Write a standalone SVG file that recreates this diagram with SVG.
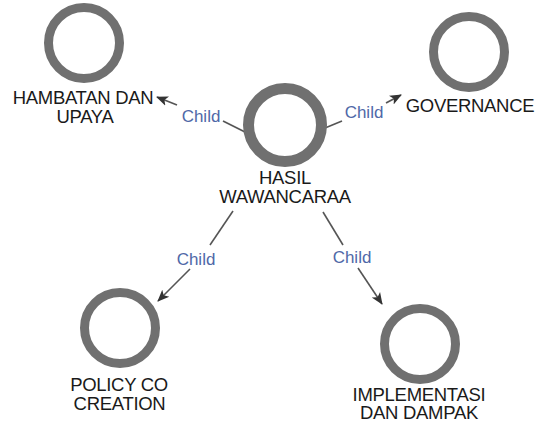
<svg xmlns="http://www.w3.org/2000/svg" width="537" height="423" viewBox="0 0 537 423">
  <style>
    .ring { fill: none; stroke: #707070; stroke-width: 9; }
    .ring-main { fill: none; stroke: #707070; stroke-width: 11; }
    .label { font-family: "Liberation Sans", Arial, sans-serif; font-size: 18.5px; fill: #1a1a1a; text-anchor: middle; letter-spacing: -0.3px; }
    .elabel { font-family: "Liberation Sans", Arial, sans-serif; font-size: 17px; fill: #4f68a8; text-anchor: middle; }
    .edge { fill: none; stroke: #555555; stroke-width: 1.6; }
  </style>
  <defs>
    <marker id="arrow" markerUnits="userSpaceOnUse" markerWidth="12" markerHeight="12" viewBox="0 0 12 12" refX="11" refY="6" orient="auto">
      <path d="M0,1 L12,6 L0,11 L3,6 Z" fill="#333333"/>
    </marker>
  </defs>
  <rect width="537" height="423" fill="#ffffff"/>

  <g id="connectors">
    <line class="edge" x1="247" y1="133" x2="223" y2="121"/>
    <line class="edge" x1="177" y1="105" x2="157" y2="97" marker-end="url(#arrow)"/>
    <text class="elabel" x="201" y="122">Child</text>

    <line class="edge" x1="325" y1="128" x2="342" y2="121"/>
    <line class="edge" x1="386" y1="103" x2="401" y2="95" marker-end="url(#arrow)"/>
    <text class="elabel" x="364" y="118">Child</text>

    <line class="edge" x1="233" y1="211" x2="210" y2="245"/>
    <line class="edge" x1="190" y1="269" x2="158" y2="301" marker-end="url(#arrow)"/>
    <text class="elabel" x="196" y="265">Child</text>

    <line class="edge" x1="323" y1="212" x2="343" y2="245"/>
    <line class="edge" x1="358" y1="268" x2="382" y2="304" marker-end="url(#arrow)"/>
    <text class="elabel" x="352" y="263">Child</text>
  </g>

  <g id="node-hasil">
    <circle class="ring-main" cx="285" cy="125" r="36.5"/>
    <text class="label" x="285" y="184">HASIL</text>
    <text class="label" x="285" y="203">WAWANCARAA</text>
  </g>

  <g id="node-hambatan">
    <circle class="ring" cx="84" cy="43" r="35.5"/>
    <text class="label" x="83" y="104">HAMBATAN DAN</text>
    <text class="label" x="85" y="123">UPAYA</text>
  </g>

  <g id="node-governance">
    <circle class="ring" cx="469" cy="52" r="35.5"/>
    <text class="label" x="470" y="112">GOVERNANCE</text>
  </g>

  <g id="node-policy">
    <circle class="ring" cx="120" cy="328" r="35.5"/>
    <text class="label" x="119" y="391">POLICY CO</text>
    <text class="label" x="119.5" y="410">CREATION</text>
  </g>

  <g id="node-implementasi">
    <circle class="ring" cx="420" cy="344" r="35.5"/>
    <text class="label" x="419" y="401">IMPLEMENTASI</text>
    <text class="label" x="419" y="419">DAN DAMPAK</text>
  </g>
</svg>
